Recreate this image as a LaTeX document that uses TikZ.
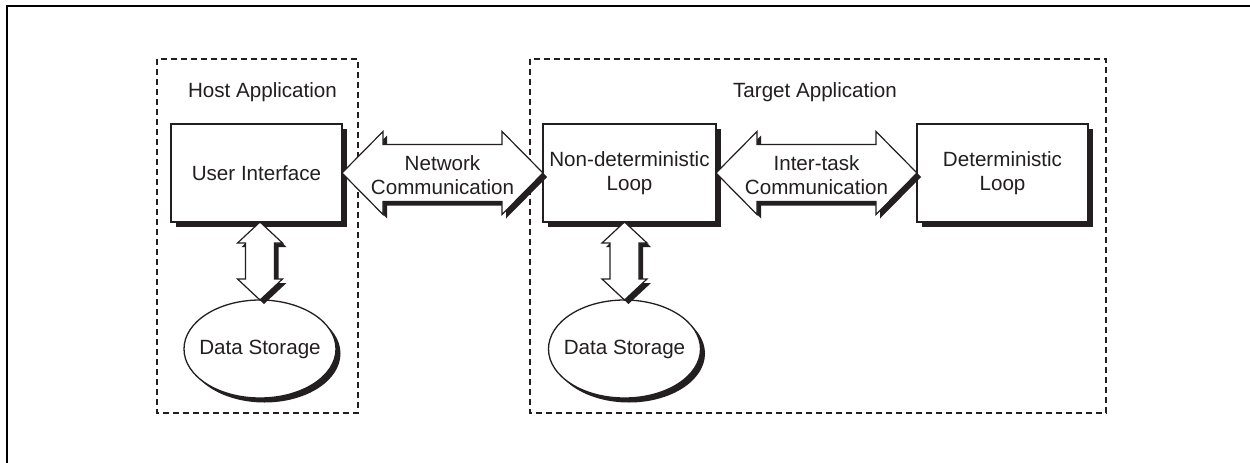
\documentclass[tikz,border=0pt]{standalone}
\usepackage{fontspec}
\setmainfont{Liberation Sans}
\usetikzlibrary{shapes.geometric,shadows,calc}
\definecolor{ink}{HTML}{231F20}
\tikzset{
  every node/.style={text=ink, font=\fontsize{20.6}{24}\selectfont, outer sep=0pt},
  frame/.style={draw=black, line width=2pt},
  region/.style={draw=ink, line width=1.3pt, dash pattern=on 6pt off 4pt},
  shadowed/.style={drop shadow={shadow xshift=4.5pt, shadow yshift=-4.5pt, fill=ink, opacity=1}},
  block/.style={rectangle, draw=ink, fill=white, line width=1.3pt, inner sep=0pt, align=center, shadowed},
  store/.style={ellipse, draw=ink, fill=white, line width=1.3pt, inner sep=0pt,
                minimum width=152pt, minimum height=98pt, shadowed},
  arrshadow/.style={fill=ink},
  arrbody/.style={draw=ink, fill=white, line width=1.2pt, line join=miter},
}
% hollow double arrow between two horizontal anchors, with its drop shadow
\newcommand\hollowH[2]{%
  \foreach \o/\st in {4/arrshadow,0/arrbody}{%
    \path[\st] let \p1=($(#1)+(\o,\o)$), \p2=($(#2)+(\o,\o)$) in
      (\x1,\y1) -- (\x1+41pt,\y1+41.5pt) -- (\x1+41pt,\y1+28.5pt)
      -- (\x2-41pt,\y1+28.5pt) -- (\x2-41pt,\y1+41.5pt) -- (\x2,\y1)
      -- (\x2-41pt,\y1-41.5pt) -- (\x2-41pt,\y1-28.5pt)
      -- (\x1+41pt,\y1-28.5pt) -- (\x1+41pt,\y1-41.5pt) -- cycle;}}
% hollow double arrow from a block down to its store, with its drop shadow
\newcommand\hollowV[2]{%
  \foreach \o/\st in {4/arrshadow,0/arrbody}{%
    \path[\st] let \p1=($(#1)+(\o,\o)$), \p2=($(#2)+(\o,\o)$) in
      (\x2,\y1) -- (\x2+22.5pt,\y1-21pt) -- (\x2+14.5pt,\y1-21pt)
      -- (\x2+14.5pt,\y2+21pt) -- (\x2+22.5pt,\y2+21pt) -- (\x2,\y2)
      -- (\x2-22.5pt,\y2+21pt) -- (\x2-14.5pt,\y2+21pt)
      -- (\x2-14.5pt,\y1-21pt) -- (\x2-22.5pt,\y1-21pt) -- cycle;}}
\begin{document}
\begin{tikzpicture}[x=1pt, y=-1pt]
  \useasboundingbox (0,0) rectangle (1250,463);
  \fill[white] (0,0) rectangle (1250,463);
  \draw[frame] (7,463) -- (7,6) -- (1250,6);

  % application regions
  \draw[region] (157,59) rectangle (358,413);
  \draw[region] (530,59) rectangle (1106,413);
  \node (hostlbl) at (262.5,92) {Host Application};
  \node (targetlbl) at (815,92) {Target Application};

  % blocks
  \node[block, minimum width=171pt, minimum height=98pt] (ui) at (256.5,173) {User Interface};
  \node[block, minimum width=173pt, minimum height=98pt] (nd) at (629.5,173) {Non-deterministic\\Loop};
  \node[block, minimum width=171pt, minimum height=98pt] (dl) at (1002.5,173) {Deterministic\\Loop};

  % data stores
  \node[store, label=center:Data Storage] (ds1) at (260,349) {};
  \node[store, label=center:Data Storage] (ds2) at (624.5,349) {};

  % communication arrows
  \hollowH{ui.east}{nd.west}
  \hollowH{nd.east}{dl.west}
  \hollowV{ui.south}{ds1.north}
  \hollowV{nd.south}{ds2.north}

  \node[align=center] (netlbl) at ($(ui.east)!0.5!(nd.west)+(0,2)$) {Network\\Communication};
  \node[align=center] (itlbl) at ($(nd.east)!0.5!(dl.west)+(0,2)$) {Inter-task\\Communication};
\end{tikzpicture}
\end{document}
